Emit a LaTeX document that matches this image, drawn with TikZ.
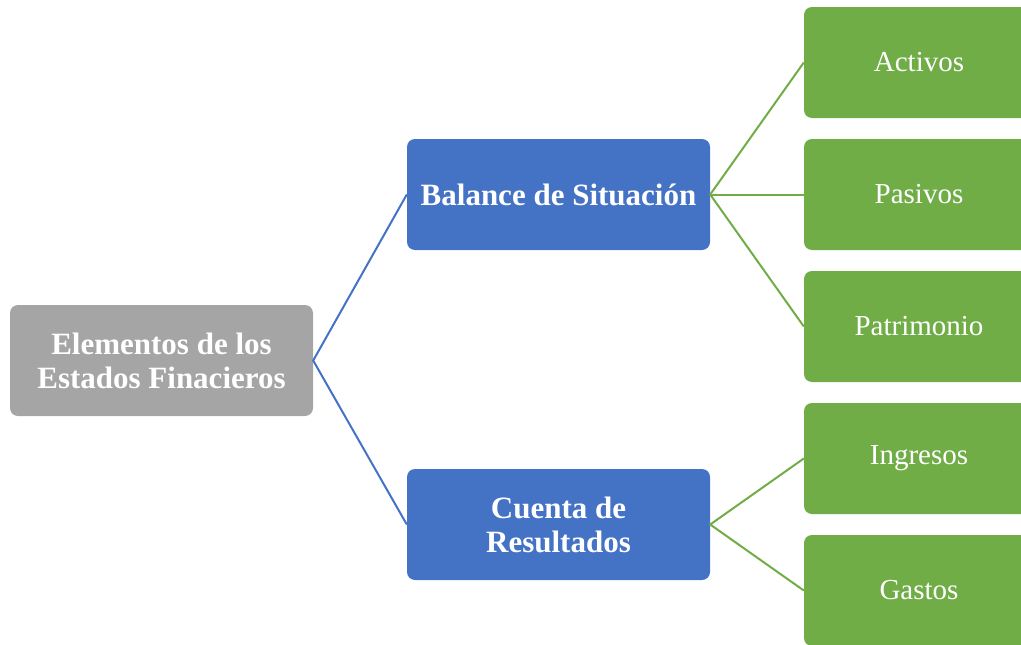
\documentclass[tikz,border=0pt]{standalone}
\usepackage{fontspec}
\setmainfont{Liberation Serif}
\definecolor{cgray}{HTML}{A5A5A5}
\definecolor{cblue}{HTML}{4472C4}
\definecolor{cgreen}{HTML}{70AD47}
\begin{document}
\begin{tikzpicture}[x=1pt,y=-1pt,
  box/.style={rounded corners=8pt, minimum height=111pt, inner sep=0pt,
    text=white, align=center},
  bigbox/.style={box, minimum width=303pt, font=\bfseries\fontsize{31}{34}\selectfont},
  leaf/.style={box, fill=cgreen, minimum width=230pt, font=\fontsize{29}{34}\selectfont},
  bline/.style={draw=cblue, line width=2pt},
  gline/.style={draw=cgreen, line width=2pt}]
\useasboundingbox (0,0) rectangle (1021,645);
\clip (0,0) rectangle (1021,645);
\node[bigbox, fill=cgray] (root) at (161.5,360.5) {Elementos de los\\Estados Finacieros};
\node[bigbox, fill=cblue] (bal) at (558.5,194.5) {Balance de Situación};
\node[bigbox, fill=cblue] (cue) at (558.5,524.5) {Cuenta de\\Resultados};
\node[leaf] (act) at (919,62.5) {Activos};
\node[leaf] (pas) at (919,194.5) {Pasivos};
\node[leaf] (pat) at (919,326.5) {Patrimonio};
\node[leaf] (ing) at (919,458.5) {Ingresos};
\node[leaf] (gas) at (919,590.5) {Gastos};
\draw[bline] (bal.west) -- (root.east) -- (cue.west);
\draw[gline] (act.west) -- (bal.east) -- (pat.west);
\draw[gline] (bal.east) -- (pas.west);
\draw[gline] (ing.west) -- (cue.east) -- (gas.west);
\end{tikzpicture}
\end{document}
